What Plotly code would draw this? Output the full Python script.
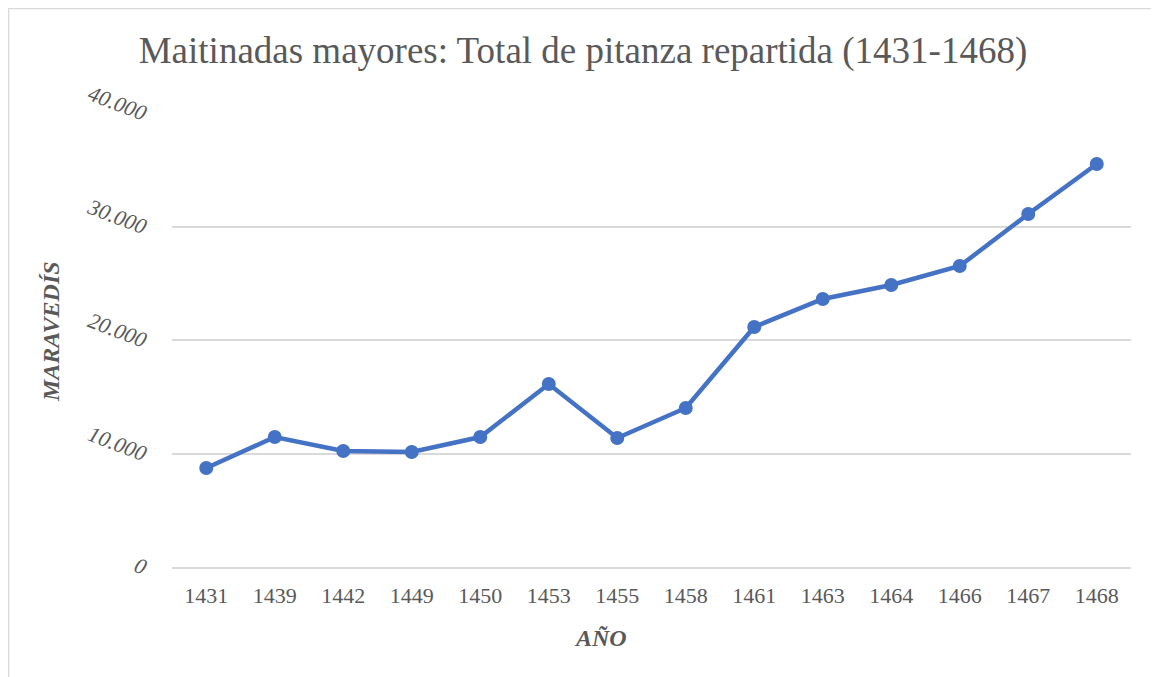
import plotly.graph_objects as go

years = ["1431", "1439", "1442", "1449", "1450", "1453", "1455", "1458",
         "1461", "1463", "1464", "1466", "1467", "1468"]
maravedis = [8720, 11450, 10220, 10130, 11450, 16120, 11370, 14010,
             21150, 23610, 24850, 26520, 31100, 35510]
y_tickvals = [0, 10000, 20000, 30000, 40000]
y_ticktext = ["0", "10.000", "20.000", "30.000", "40.000"]

OFF = 8  # page body margin
W, H = 1159 - OFF, 677 - OFF
L, T = 172 - OFF, 113 - OFF
R = W - (1131 - OFF)
B = H - (567 - OFF)
pw, ph = W - L - R, H - T - B

def px(x):  # page x -> paper x
    return (x - OFF - L) / pw

def py(y):  # page y -> paper y
    return (H - B - (y - OFF)) / ph

fig = go.Figure()
fig.add_trace(go.Scatter(
    x=years, y=maravedis, mode="lines+markers",
    line=dict(color="#4472C4", width=4.5),
    marker=dict(color="#4472C4", size=14),
    showlegend=False, cliponaxis=False,
))

serif = "Liberation Serif, Times New Roman, serif"
grey = "#595959"

fig.update_layout(
    width=W, height=H,
    margin=dict(l=L, r=R, t=T, b=B),
    paper_bgcolor="white", plot_bgcolor="white",
    title=dict(text="Maitinadas mayores: Total de pitanza repartida (1431-1468)",
               x=px(583), xref="paper", xanchor="center",
               y=1 - (50 - OFF) / H, yanchor="middle",
               font=dict(family=serif, size=37, color=grey)),
    xaxis=dict(type="category", range=[-0.5, len(years) - 0.5],
               showgrid=False, zeroline=False,
               showline=True, linecolor="#d9d9d9", linewidth=1.5,
               ticks="", ticklabelstandoff=8,
               tickfont=dict(family=serif, size=22, color=grey)),
    yaxis=dict(range=[0, 40000], tickvals=y_tickvals, ticktext=y_ticktext,
               showgrid=True, gridcolor="#d9d9d9", gridwidth=1.5,
               zeroline=False, showline=False, ticks="",
               tickangle=21, ticklabelstandoff=24, ticklabelshift=1,
               tickfont=dict(family=serif, size=22, color=grey, style="italic")),
    annotations=[
        dict(text="AÑO", x=px(600), y=py(638), xref="paper", yref="paper",
             showarrow=False, xanchor="center", yanchor="middle",
             font=dict(family=serif, size=24, color=grey, weight="bold", style="italic")),
        dict(text="MARAVEDÍS", x=px(51), y=py(331), xref="paper", yref="paper",
             showarrow=False, xanchor="center", yanchor="middle", textangle=-90,
             font=dict(family=serif, size=24, color=grey, weight="bold", style="italic")),
    ],
    shapes=[
        dict(type="line", xref="paper", yref="paper",
             x0=px(8), x1=px(1165), y0=py(8.5), y1=py(8.5),
             line=dict(color="#d9d9d9", width=1.5)),
        dict(type="line", xref="paper", yref="paper",
             x0=px(8.5), x1=px(8.5), y0=py(8), y1=py(690),
             line=dict(color="#d9d9d9", width=1.5)),
    ],
)

fig.write_html("out.html")
